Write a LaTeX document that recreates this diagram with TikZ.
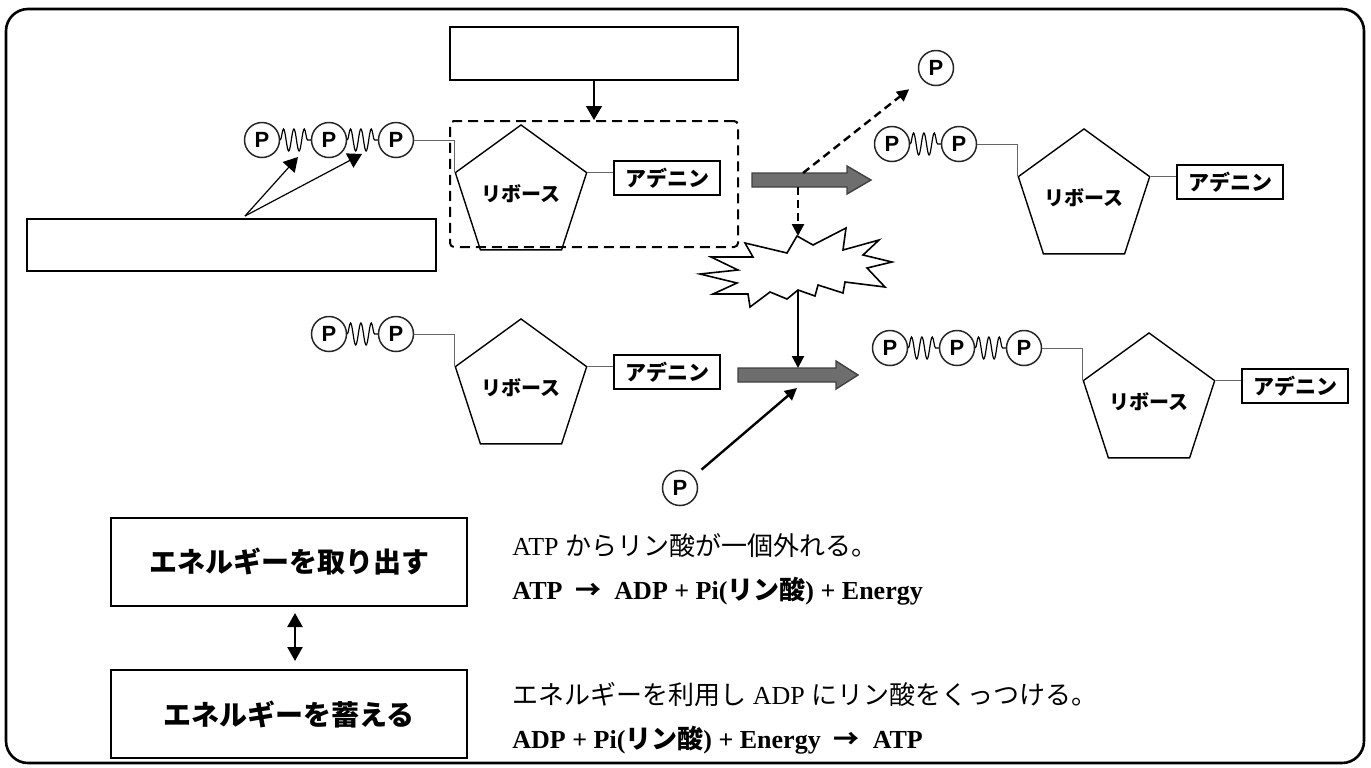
\documentclass[tikz,border=0pt]{standalone}
\usepackage{fontspec}
\setmainfont{Liberation Serif}
\newfontfamily\jp{Noto Sans CJK JP}
\newfontfamily\arial{Liberation Sans}
\usetikzlibrary{arrows.meta,shapes.geometric,decorations.pathmorphing,positioning}

\begin{document}
\begin{tikzpicture}[x=0.5pt,y=-0.5pt,
    phos/.style={circle,draw=black!85,line width=0.75pt,minimum size=17.5pt,inner sep=0pt,
        font=\arial\bfseries\fontsize{11pt}{11pt}\selectfont},
    ribose/.style={regular polygon,regular polygon sides=5,draw,line width=0.7pt,
        minimum size=59pt,inner sep=0pt,font=\jp\bfseries\fontsize{10pt}{10pt}\selectfont},
    adenine/.style={draw,line width=0.7pt,minimum width=53pt,minimum height=17pt,
        inner sep=0pt,font=\jp\bfseries\fontsize{10.5pt}{10.5pt}\selectfont},
    bond/.style={black!60,line width=0.5pt},
    hiE/.style={decorate,decoration={snake,amplitude=5.5pt,segment length=5.2pt},
        line width=0.6pt},
    blank/.style={draw,line width=1pt,inner sep=0pt},
    ebox/.style={draw,line width=1pt,minimum width=178pt,minimum height=44pt,
        font=\jp\bfseries\fontsize{14pt}{14pt}\selectfont},
    thinarr/.style={-{Triangle[length=7pt,width=8pt]},line width=0.6pt},
    arr/.style={-{Triangle[length=6pt,width=6pt]},line width=1.2pt},
    dasharr/.style={arr,dash pattern=on 4pt off 2.5pt},
    bigarr/.style={fill=black!57,draw=black!75,line width=0.7pt},
    eqn/.style={anchor=west,inner sep=0pt,font=\fontsize{13pt}{13pt}\selectfont}
]
    \useasboundingbox (0,0) rectangle (1371,767);
    \draw[line width=1.3pt,rounded corners=11pt] (6,9) rectangle (1364,763);

    % -------------------------------
    % ATP（左上）
    % -------------------------------
    \begin{scope}[shift={(521,194)}]
        \node[ribose] (ribA) at (0,0) {リボース};
        \node[adenine] (adeA) at (146,-16) {アデニン};
        \foreach \i in {1,2,3} {
            \node[phos] (pA\i) at (-326+67*\i,-54) {P};
        }
        \draw[hiE] (pA1.east) -- (pA2.west);
        \draw[hiE] (pA2.east) -- (pA3.west);
        \draw[bond] (pA3.east) -| (ribA.corner 2);
        \draw[bond] (ribA.corner 5) -- (ribA.corner 5 -| adeA.west);
    \end{scope}

    % 空欄と点線の枠
    \node[blank,minimum width=144pt,minimum height=26.5pt] (topbox) at (594,53.5) {};
    \node[draw,line width=1pt,dash pattern=on 5pt off 3pt,rounded corners=2pt,
        minimum width=144pt,minimum height=63pt] (frag) at (594,184) {};
    \draw[thinarr] (topbox.south) -- (frag.north);

    \node[blank,minimum width=204.5pt,minimum height=26pt] (leftbox) at (231.5,245) {};
    \coordinate (apex) at (245,216);
    \coordinate (hb1) at (298,157);
    \coordinate (hb2) at (362,154);
    \draw[thinarr] (apex) -- (hb1);
    \draw[thinarr] (apex) -- (hb2);

    % -------------------------------
    % ADP（右上）
    % -------------------------------
    \begin{scope}[shift={(1084,198)}]
        \node[ribose] (ribB) at (0,0) {リボース};
        \node[adenine] (adeB) at (146,-16) {アデニン};
        \foreach \i in {1,2} {
            \node[phos] (pB\i) at (-259+67*\i,-54) {P};
        }
        \draw[hiE] (pB1.east) -- (pB2.west);
        \draw[bond] (pB2.east) -| (ribB.corner 2);
        \draw[bond] (ribB.corner 5) -- (ribB.corner 5 -| adeB.west);
    \end{scope}

    % -------------------------------
    % ADP（左下）
    % -------------------------------
    \begin{scope}[shift={(521,388)}]
        \node[ribose] (ribC) at (0,0) {リボース};
        \node[adenine] (adeC) at (146,-16) {アデニン};
        \foreach \i in {1,2} {
            \node[phos] (pC\i) at (-259+67*\i,-54) {P};
        }
        \draw[hiE] (pC1.east) -- (pC2.west);
        \draw[bond] (pC2.east) -| (ribC.corner 2);
        \draw[bond] (ribC.corner 5) -- (ribC.corner 5 -| adeC.west);
    \end{scope}

    % -------------------------------
    % ATP（右下）
    % -------------------------------
    \begin{scope}[shift={(1149,402)}]
        \node[ribose] (ribD) at (0,0) {リボース};
        \node[adenine] (adeD) at (146,-16) {アデニン};
        \foreach \i in {1,2,3} {
            \node[phos] (pD\i) at (-326+67*\i,-54) {P};
        }
        \draw[hiE] (pD1.east) -- (pD2.west);
        \draw[hiE] (pD2.east) -- (pD3.west);
        \draw[bond] (pD3.east) -| (ribD.corner 2);
        \draw[bond] (ribD.corner 5) -- (ribD.corner 5 -| adeD.west);
    \end{scope}

    % 灰色の矢印
    \draw[bigarr] (752,173) -- (847,173) -- (847,166) -- (871,180)
        -- (847,194) -- (847,187) -- (752,187) -- cycle;
    \draw[bigarr] (738,368) -- (836,368) -- (836,361) -- (858,375)
        -- (836,389) -- (836,382) -- (738,382) -- cycle;
    \coordinate (g1up) at (803,173);
    \coordinate (g1dn) at (798,187);
    \coordinate (g2top) at (798,368);
    \coordinate (g2bot) at (797,388);

    % 爆発
    \draw[line width=0.8pt,fill=white] (745,243) -- (787,253) -- (797,236) -- (813,245)
        -- (846,228) -- (843,250) -- (879,240) -- (863,255) -- (892,262)
        -- (867,268) -- (885,287) -- (845,282) -- (843,293) -- (818,285)
        -- (815,296) -- (798,290) -- (787,299) -- (770,292) -- (750,307)
        -- (748,294) -- (713,294) -- (737,283) -- (700,274) -- (738,270)
        -- (711,257) -- (753,257) -- cycle;
    \coordinate (bTop) at (798,236);
    \coordinate (bBot) at (798,291);

    \node[phos] (pOut) at (936,68) {P};
    \node[phos] (pIn) at (680,488) {P};
    \draw[dasharr,shorten >=8pt] (g1up) -- (pOut);
    \draw[dasharr] (g1dn) -- (bTop);
    \draw[arr] (bBot) -- (g2top);
    \draw[arr,shorten <=5pt] (pIn) -- (g2bot);

    % -------------------------------
    % 下段：説明
    % -------------------------------
    \node[ebox] (takeOut) at (289,562) {エネルギーを取り出す};
    \node[ebox] (store) at (289,714) {エネルギーを蓄える};
    \draw[{Triangle[length=7pt,width=7.5pt]}-{Triangle[length=7pt,width=7.5pt]},line width=1.2pt,
        shorten <=3pt,shorten >=4pt] ([xshift=3pt]takeOut.south) -- ([xshift=3pt]store.north);

    \node[eqn] (t1) at (512,546) {ATP {\jp からリン酸が一個外れる。}};
    \node[eqn,font=\bfseries\fontsize{13pt}{13pt}\selectfont] (e1) at (512,591)
        {ATP\ \ {\jp →}\ \ ADP + Pi({\jp リン酸}) + Energy};
    \node[eqn] (t2) at (512,695) {{\jp エネルギーを利用し} ADP {\jp にリン酸をくっつける。}};
    \node[eqn,font=\bfseries\fontsize{13pt}{13pt}\selectfont] (e2) at (512,740)
        {ADP + Pi({\jp リン酸}) + Energy\ \ {\jp →}\ \ ATP};

\end{tikzpicture}
\end{document}
